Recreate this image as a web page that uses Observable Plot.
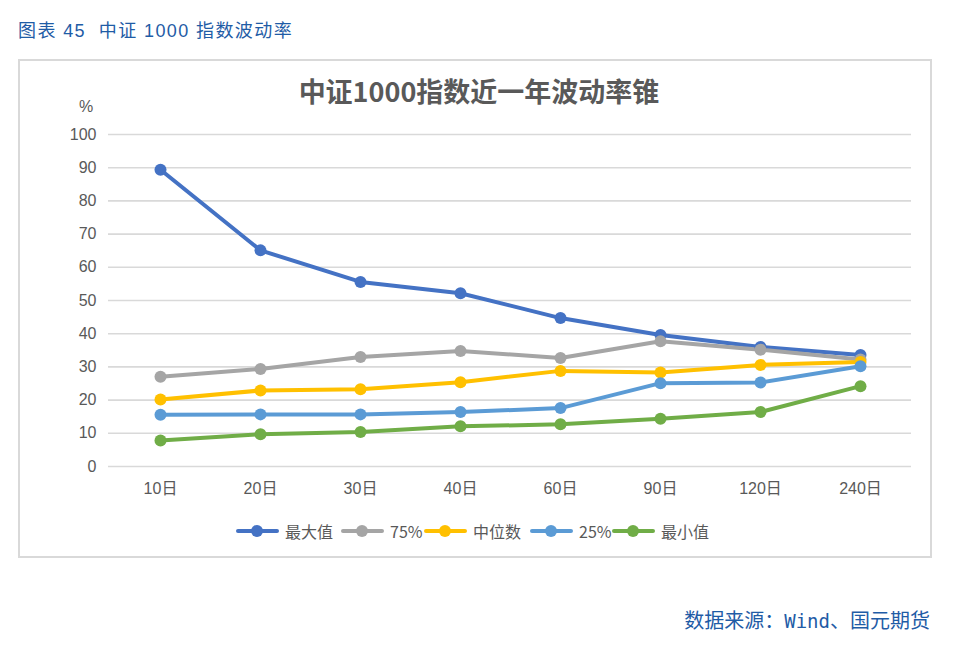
<!DOCTYPE html>
<html>
<head>
<meta charset="utf-8">
<script src="https://cdn.jsdelivr.net/npm/d3@7"></script>
<script src="https://cdn.jsdelivr.net/npm/@observablehq/plot@0.6"></script>
<style>
  html, body { margin: 0; padding: 0; background: #fff; }
  body { width: 958px; height: 646px; position: relative; overflow: hidden; font-family: "Liberation Sans", "Noto Sans CJK SC", sans-serif; }
  #top { position: absolute; left: 18px; top: 16px; font-size: 18px; letter-spacing: 1.4px; color: #1f5ca6; white-space: pre; }
  #box { position: absolute; left: 18px; top: 59px; width: 914px; height: 499px; border: 2px solid #d9d9d9; box-sizing: border-box; }
  #ctitle { position: absolute; left: 0; width: 958px; top: 71px; text-align: center; font-family: "Noto Sans CJK SC", sans-serif; font-size: 27px; font-weight: bold; color: #595959; }
  #unit { position: absolute; left: 79px; top: 98px; font-size: 16px; color: #595959; }
  #chart { position: absolute; left: 0; top: 0; }
  #legend { position: absolute; top: 519px; left: 0; width: 958px; height: 24px; }
  .item { position: absolute; top: 0; height: 24px; display: flex; align-items: center; font-size: 16px; color: #595959; font-family: "Noto Sans CJK SC", sans-serif; }
  .sw { position: relative; width: 43px; height: 24px; margin-right: 6px; }
  .sw .ln { position: absolute; left: 0; right: 0; top: 10px; height: 4px; border-radius: 2px; }
  .sw .dt { position: absolute; left: 15px; top: 6px; width: 12px; height: 12px; border-radius: 6px; }
  #foot { position: absolute; right: 28px; top: 605px; font-size: 20px; color: #1f5ca6; font-family: "Noto Sans CJK SC", sans-serif; }
  #foot .mono { font-family: "DejaVu Sans Mono", monospace; font-size: 19px; }
</style>
</head>
<body>
<div id="top">图表 45  中证 1000 指数波动率</div>
<div id="box"></div>
<div id="ctitle">中证1000指数近一年波动率锥</div>
<div id="unit">%</div>
<div id="chart"></div>
<div id="legend"></div>
<div id="foot">数据来源：<span class="mono">Wind</span>、国元期货</div>
<script>
const categories = ["10日", "20日", "30日", "40日", "60日", "90日", "120日", "240日"];
const seriesNames = ["最大值", "75%", "中位数", "25%", "最小值"];
const seriesColors = ["#4472c4", "#a5a5a5", "#ffc000", "#5b9bd5", "#70ad47"];
const maxValues    = [89.4, 65.1, 55.6, 52.2, 44.7, 39.6, 36.0, 33.6];
const p75Values    = [27.0, 29.4, 33.0, 34.8, 32.7, 37.7, 35.2, 32.2];
const medianValues = [20.2, 22.9, 23.3, 25.4, 28.8, 28.3, 30.6, 31.5];
const p25Values    = [15.6, 15.7, 15.7, 16.4, 17.6, 25.1, 25.3, 30.2];
const minValues    = [7.8, 9.7, 10.4, 12.1, 12.7, 14.4, 16.4, 24.2];
const yTicks = [0, 10, 20, 30, 40, 50, 60, 70, 80, 90, 100];

const seriesValues = [maxValues, p75Values, medianValues, p25Values, minValues];
const rows = [];
seriesNames.forEach((s, i) => {
  categories.forEach((c, j) => rows.push({series: s, cat: c, value: seriesValues[i][j]}));
});

const plot = Plot.plot({
  width: 958,
  height: 520,
  marginTop: 134,
  marginBottom: 54,
  marginLeft: 108,
  marginRight: 47,
  style: {fontFamily: '"Liberation Sans", "Noto Sans CJK SC", sans-serif', fontSize: "16px", color: "#595959", background: "transparent"},
  x: {type: "point", domain: categories, padding: 0.5},
  y: {domain: [0, 100]},
  color: {domain: seriesNames, range: seriesColors},
  marks: [
    Plot.ruleY(yTicks, {stroke: "#d9d9d9", strokeWidth: 1.6}),
    Plot.axisY({ticks: yTicks, tickSize: 0, tickPadding: 12, label: null, fontSize: 16}),
    Plot.axisX({tickSize: 0, tickPadding: 16, label: null, fontSize: 16}),
    Plot.line(rows, {x: "cat", y: "value", z: "series", stroke: "series", strokeWidth: 4, strokeLinejoin: "round", strokeLinecap: "round"}),
    Plot.dot(rows, {x: "cat", y: "value", fill: "series", r: 6, stroke: "none"})
  ]
});
document.getElementById("chart").appendChild(plot);

const legendLefts = [236, 341, 424, 530, 612];
const legend = document.getElementById("legend");
seriesNames.forEach((s, i) => {
  const it = document.createElement("div");
  it.className = "item";
  it.style.left = legendLefts[i] + "px";
  it.innerHTML = `<div class="sw"><div class="ln" style="background:${seriesColors[i]}"></div><div class="dt" style="background:${seriesColors[i]}"></div></div><span>${s}</span>`;
  legend.appendChild(it);
});
</script>
</body>
</html>
